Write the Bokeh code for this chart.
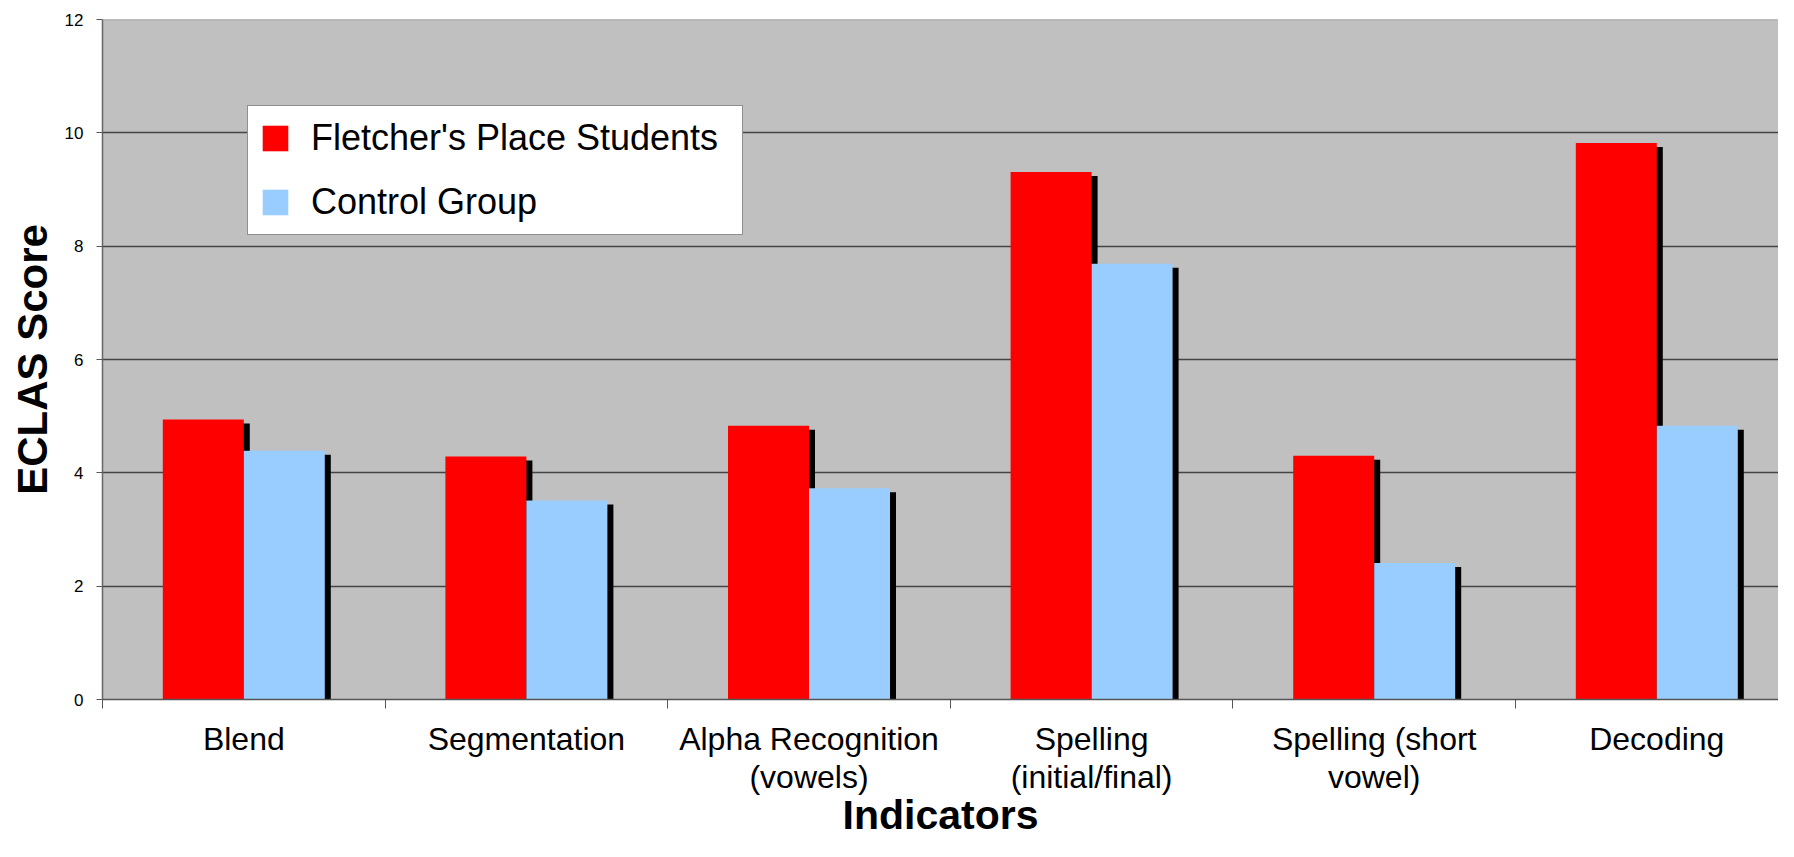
import numpy as np
from bokeh.plotting import figure
from bokeh.models import Range1d, FixedTicker, Legend, LegendItem, Span, ColumnDataSource
from bokeh.transform import dodge
from bokeh.embed import file_html
from bokeh.resources import INLINE

# ---- data ----
categories = ["Blend", "Segmentation", "Alpha Recognition\n(vowels)",
              "Spelling\n(initial/final)", "Spelling (short\nvowel)", "Decoding"]
fletcher = [4.94, 4.29, 4.83, 9.31, 4.30, 9.82]
control = [4.39, 3.51, 3.73, 7.69, 2.41, 4.83]
series_names = ["Fletcher's Place Students", "Control Group"]
y_ticks = [0, 2, 4, 6, 8, 10, 12]

FONT = "Liberation Sans"
W, H = 1778, 841
LEFT, TOP, BOTTOM = 102, 19, 142
cat_px = 282.6                      # pixel width of one category
frame_w = W - LEFT
x_end = frame_w / cat_px
unit_px = (H - TOP - BOTTOM) / 12.0

bar_w = 81.0 / cat_px
sh_dx = 6.0 / cat_px                # shadow offset (6px right)
sh_dy = 4.0 / unit_px               # shadow offset (4px down)

xs = np.arange(len(categories)) + 0.5
src = ColumnDataSource(dict(
    x=xs,
    f=fletcher, c=control,
    fs=np.array(fletcher) - sh_dy,
    cs=np.array(control) - sh_dy,
))

p = figure(width=W, height=H, output_backend="svg", toolbar_location=None,
           x_range=Range1d(0, x_end), y_range=Range1d(0, 12),
           min_border_left=LEFT, min_border_right=0, min_border_top=TOP,
           min_border_bottom=BOTTOM)
p.background_fill_color = "#C0C0C0"
p.border_fill_color = "white"
p.outline_line_color = None

# shadows and bars
p.vbar(x=dodge("x", -bar_w / 2 + sh_dx, range=p.x_range), top="fs", width=bar_w,
       source=src, fill_color="black", line_color=None)
r_f = p.vbar(x=dodge("x", -bar_w / 2, range=p.x_range), top="f", width=bar_w,
             source=src, fill_color="#FF0000", line_color=None)
p.vbar(x=dodge("x", bar_w / 2 + sh_dx, range=p.x_range), top="cs", width=bar_w,
       source=src, fill_color="black", line_color=None)
r_c = p.vbar(x=dodge("x", bar_w / 2, range=p.x_range), top="c", width=bar_w,
             source=src, fill_color="#99CCFF", line_color=None)

# grid
p.xgrid.visible = False
p.ygrid.ticker = FixedTicker(ticks=[t for t in y_ticks if 0 < t < 12])
p.ygrid.grid_line_color = "#444444"
p.ygrid.grid_line_width = 1.6
p.add_layout(Span(location=12, dimension="width", line_color="#9a9a9a", line_width=1.5))

# x axis
xa = p.xaxis[0]
xa.ticker = FixedTicker(ticks=list(xs), minor_ticks=list(range(len(categories) + 1)))
xa.major_label_overrides = {float(x): c for x, c in zip(xs, categories)}
xa.major_tick_line_color = None
xa.major_tick_out = 0
xa.minor_tick_in = 0
xa.minor_tick_out = 9
xa.minor_tick_line_color = "#555555"
xa.axis_line_color = "#555555"
xa.axis_line_width = 1.5
xa.major_label_text_font = FONT
xa.major_label_text_font_size = "32px"
xa.major_label_text_line_height = 1.07
xa.major_label_text_color = "black"
xa.major_label_standoff = 12
xa.axis_label = "Indicators"
xa.axis_label_text_font = FONT
xa.axis_label_text_font_style = "bold"
xa.axis_label_text_font_size = "41px"
xa.axis_label_text_color = "black"
xa.axis_label_standoff = -6

# y axis
ya = p.yaxis[0]
ya.ticker = FixedTicker(ticks=y_ticks)
ya.major_tick_in = 0
ya.major_tick_out = 6
ya.minor_tick_line_color = None
ya.major_tick_line_color = "#555555"
ya.axis_line_color = "#666666"
ya.axis_line_width = 1.5
ya.major_label_text_font = FONT
ya.major_label_text_font_size = "17px"
ya.major_label_text_color = "black"
ya.major_label_standoff = 13
ya.axis_label = "ECLAS Score"
ya.axis_label_text_font = FONT
ya.axis_label_text_font_style = "bold"
ya.axis_label_text_font_size = "42px"
ya.axis_label_text_color = "black"
ya.axis_label_standoff = 6

# legend
frame_bottom = H - BOTTOM
legend = Legend(items=[LegendItem(label=series_names[0], renderers=[r_f]),
                       LegendItem(label=series_names[1], renderers=[r_c])],
                location=(145, frame_bottom - 235))
legend.label_text_font = FONT
legend.label_text_font_size = "36px"
legend.label_text_color = "black"
legend.glyph_width = 32
legend.glyph_height = 32
legend.label_standoff = 20
legend.label_width = 420
legend.padding = 11
legend.spacing = 22
legend.margin = 0
legend.border_line_color = "#222222"
legend.border_line_width = 1
legend.background_fill_color = "white"
legend.background_fill_alpha = 1.0
p.add_layout(legend, "center")

open("out.html", "w").write(file_html(p, INLINE))
